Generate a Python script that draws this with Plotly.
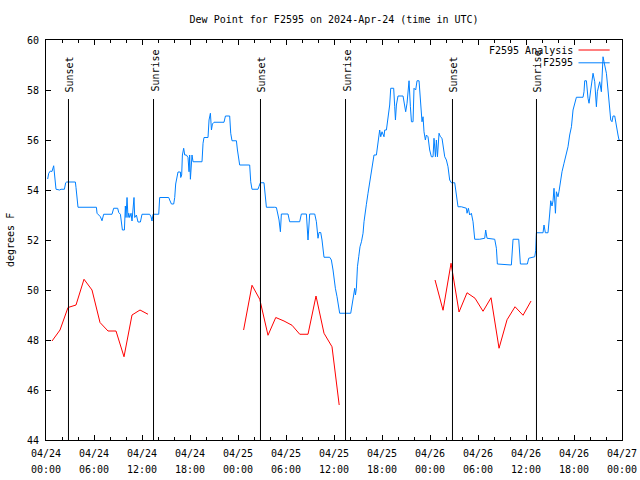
import plotly.graph_objects as go

# Hours since 2024-04-24 00:00 UTC
obs_hours = [0.21, 0.34, 0.55, 0.75, 0.96, 1.05, 1.17, 1.25, 1.71, 1.88, 2.30, 2.46, 2.59, 3.67, 3.75, 3.88, 4.0,
             5.75, 6.3, 6.38, 6.59, 6.8, 7.0, 7.21, 8.25, 8.46, 8.96, 9.09, 9.3, 9.43, 9.55, 9.8, 9.92, 10.0,
             10.13, 10.25, 10.34, 10.46, 10.63, 10.75, 10.88, 11.0, 11.09, 11.3, 11.5, 11.8, 12.0, 12.96, 13.13,
             13.25, 13.38, 14.09, 14.21, 15.34, 15.46, 15.68, 15.96, 16.09, 16.21, 16.38, 16.5, 16.8, 16.84,
             16.96, 17.05, 17.21, 17.34, 17.55, 17.75, 17.88, 17.96, 18.05, 18.17, 18.25, 18.38, 19.5, 19.63,
             19.75, 20.25, 20.38, 20.55, 20.68, 20.8, 21.0, 22.25, 22.43, 22.96, 23.09, 23.25, 23.8, 23.93,
             24.09, 24.21, 25.46, 25.59, 25.75, 26.5, 26.63, 26.8, 27.25, 27.46, 27.55, 28.59, 28.8, 29.0,
             29.13, 29.3, 29.42, 30.25, 30.46, 31.71, 31.92, 32.55, 32.63, 32.75, 32.96, 33.59, 33.8, 33.93,
             34.0, 34.13, 34.34, 34.5, 34.63, 34.75, 35.46, 35.67, 35.88, 36.0, 36.17, 36.38, 36.59, 36.71,
             38.09, 38.25, 38.46, 38.59, 38.68, 38.8, 38.93, 39.09, 39.25, 39.43, 39.63, 39.75, 39.93, 40.05,
             40.25, 40.46, 40.68, 40.88, 41.0, 41.3, 41.43, 41.59, 41.71, 41.84, 42.0, 42.25, 42.34, 42.55,
             42.75, 42.96, 43.09, 43.46, 43.59, 43.68, 43.8, 44.0, 44.63, 44.84, 44.96, 45.13, 45.25, 45.38,
             45.55, 45.68, 45.88, 46.0, 46.21, 46.38, 46.63, 46.8, 46.93, 47.0, 47.13, 47.25, 47.42, 47.55,
             47.75, 47.96, 48.17, 48.38, 48.5, 48.68, 48.8, 48.93, 49.13, 49.3, 49.5, 49.63, 49.84, 50.05,
             50.25, 50.46, 50.67, 51.09, 51.3, 51.5, 51.92, 52.55, 52.63, 52.8, 52.96, 53.17, 53.38, 53.59,
             54.21, 54.84, 54.96, 55.13, 56.09, 56.3, 56.42, 58.17, 58.38, 59.09, 59.3, 60.17, 60.34, 61.09,
             61.21, 61.3, 62.13, 62.25, 62.42, 62.75, 62.96, 63.09, 63.25, 63.38, 63.5, 63.68, 63.8, 64.0,
             64.13, 64.34, 64.5, 64.75, 64.96, 65.25, 65.46, 65.68, 65.88, 66.09, 66.3, 67.13, 67.25, 67.34,
             67.55, 67.75, 67.88, 68.09, 68.25, 68.38, 68.59, 68.8, 68.92, 69.21, 69.42, 69.5, 69.63, 69.75,
             70.05, 70.25, 70.46, 70.59, 70.75, 70.88, 71.09, 71.3, 71.5, 71.63, 71.72]
obs_values = [54.44, 54.67, 54.76, 54.74, 54.97, 54.7, 54.33, 54.03, 54.0, 54.03, 54.03, 54.29, 54.32, 54.32, 54.1,
              53.6, 53.31, 53.31, 53.31, 53.07, 53.0, 52.93, 52.77, 53.03, 53.03, 53.27, 53.27, 53.1, 53.03,
              52.6, 52.4, 52.4, 53.36, 52.9, 53.7, 52.9, 53.07, 52.9, 53.07, 52.76, 53.3, 53.7, 52.9, 53.0,
              52.72, 52.72, 53.03, 53.03, 52.93, 52.76, 53.03, 53.03, 53.7, 53.7, 53.6, 53.44, 53.44, 53.7,
              54.24, 54.53, 54.72, 54.72, 54.5, 54.6, 55.4, 55.67, 55.4, 55.4, 55.3, 54.73, 55.4, 54.43, 55.0,
              55.4, 55.13, 55.13, 55.87, 56.1, 56.1, 56.8, 57.07, 56.4, 56.64, 56.71, 56.71, 56.96, 56.96,
              56.27, 55.97, 55.97, 55.6, 55.33, 55.0, 55.0, 54.33, 54.03, 54.03, 54.15, 54.29, 54.29, 53.6,
              53.31, 53.31, 53.3, 53.0, 52.8, 52.33, 53.04, 53.04, 52.73, 52.73, 53.04, 53.04, 52.27, 52.0,
              53.04, 53.04, 52.73, 52.27, 52.07, 52.3, 52.3, 52.0, 51.47, 51.31, 51.31, 51.2, 50.8, 50.4,
              50.07, 49.73, 49.33, 49.07, 49.07, 49.47, 49.8, 50.07, 49.8, 50.07, 50.93, 51.33, 51.73, 51.93,
              52.27, 52.73, 53.07, 53.43, 53.87, 54.27, 54.67, 55.07, 55.4, 55.4, 55.67, 56.07, 56.4, 56.13,
              56.33, 56.13, 56.4, 56.4, 56.87, 57.4, 58.07, 58.07, 57.33, 56.8, 57.4, 57.76, 57.76, 57.4,
              57.13, 57.47, 58.0, 58.37, 57.33, 56.73, 56.73, 58.07, 58.0, 58.37, 58.37, 57.6, 57.13, 56.73,
              56.93, 56.33, 56.0, 56.2, 56.13, 55.6, 55.33, 55.33, 56.07, 55.33, 56.0, 55.33, 56.27, 56.13,
              56.07, 55.8, 55.33, 55.2, 54.93, 54.4, 54.29, 54.29, 53.87, 53.33, 53.33, 53.27, 53.07, 53.27,
              53.0, 53.07, 52.73, 52.03, 52.03, 52.07, 52.4, 52.07, 52.03, 51.67, 51.04, 51.0, 52.03, 52.03,
              51.04, 51.04, 51.27, 51.33, 51.57, 52.29, 52.29, 52.6, 52.29, 52.29, 53.04, 53.57, 53.36, 53.57,
              54.07, 53.07, 53.93, 53.73, 53.95, 54.47, 54.73, 55.07, 55.33, 55.73, 56.2, 56.53, 57.2, 57.53,
              57.71, 57.71, 57.93, 58.37, 58.37, 57.67, 57.47, 58.0, 58.53, 58.67, 58.33, 57.33, 57.93, 58.33,
              57.93, 58.67, 59.33, 59.13, 58.67, 58.0, 57.4, 56.8, 56.73, 56.96, 56.96, 56.47, 56.2, 56.0, 56.0]

ana_hours = [0.75, 1.75, 2.75, 3.75, 4.75, 5.75, 6.75, 7.75, 8.75, 9.75, 10.75, 11.75, 12.75, None,
             24.7, 25.75, 26.72, 27.75, 28.72, 29.75, 30.75, 31.72, 32.75, 33.75, 34.75, 35.75, 36.65, None,
             48.63, 49.63, 50.63, 51.63, 52.63, 53.63, 54.63, 55.63, 56.63, 57.63, 58.63, 59.63, 60.63]
ana_values = [47.96, 48.4, 49.3, 49.4, 50.43, 50.0, 48.7, 48.36, 48.36, 47.33, 49.0, 49.2, 49.03, None,
              48.4, 50.19, 49.63, 48.19, 48.9, 48.76, 48.59, 48.23, 48.23, 49.76, 48.27, 47.73, 45.4, None,
              50.4, 49.19, 51.07, 49.12, 49.89, 49.67, 49.15, 49.69, 47.67, 48.81, 49.33, 48.99, 49.56]

sun_hours = [2.81, 13.44, 26.81, 37.44, 50.81, 61.31]
sun_labels = ["Sunset", "Sunrise", "Sunset", "Sunrise", "Sunset", "Sunrise"]

tick_hours = [0, 6, 12, 18, 24, 30, 36, 42, 48, 54, 60, 66, 72]
tick_dates = ["04/24", "04/24", "04/24", "04/24", "04/25", "04/25", "04/25", "04/25",
              "04/26", "04/26", "04/26", "04/26", "04/27"]
tick_times = ["00:00", "06:00", "12:00", "18:00", "00:00", "06:00", "12:00", "18:00",
              "00:00", "06:00", "12:00", "18:00", "00:00"]

FONT = "DejaVu Sans Mono"
RED = "#ff0000"
BLUE = "#0080ff"

fig = go.Figure()
fig.add_trace(go.Scatter(x=ana_hours, y=ana_values, mode="lines", connectgaps=False,
                         line=dict(color=RED, width=1), name="F2595 Analysis", showlegend=False))
fig.add_trace(go.Scatter(x=obs_hours, y=obs_values, mode="lines",
                         line=dict(color=BLUE, width=1), name="F2595", showlegend=False))

for h, lab in zip(sun_hours, sun_labels):
    fig.add_shape(type="line", xref="x", yref="paper", x0=h, x1=h, y0=0, y1=0.8525,
                  line=dict(color="black", width=1))
    fig.add_annotation(x=h, xref="x", y=0.865, yref="paper", text=lab, textangle=-90,
                       showarrow=False, xanchor="center", yanchor="bottom", xshift=1,
                       font=dict(family=FONT, size=10, color="black"))

# second row of the time-axis labels
for h, t in zip(tick_hours, tick_times):
    fig.add_annotation(x=h, xref="x", y=-0.0725, yref="paper", text=t, showarrow=False,
                       xanchor="center", yanchor="middle", font=dict(family=FONT, size=10, color="black"))

# legend (gnuplot style: text then sample)
leg = [("F2595 Analysis", RED, 0.975), ("F2595", BLUE, 0.943)]
for name, col, yy in leg:
    fig.add_annotation(x=0.918, xref="paper", y=yy, yref="paper", text=name, showarrow=False,
                       xanchor="right", yanchor="middle", font=dict(family=FONT, size=10, color="black"))
    fig.add_shape(type="line", xref="paper", yref="paper", x0=0.9245, x1=0.9786, y0=yy, y1=yy,
                  line=dict(color=col, width=1))

fig.add_annotation(x=-0.0625, xref="paper", y=0.5, yref="paper", text="degrees F", textangle=-90,
                   showarrow=False, xanchor="center", yanchor="middle",
                   font=dict(family=FONT, size=10, color="black"))

fig.update_layout(
    width=640, height=480,
    margin=dict(l=46, r=18, t=40, b=40, autoexpand=False),
    paper_bgcolor="white", plot_bgcolor="white",
    title=dict(text="Dew Point for F2595 on 2024-Apr-24 (time in UTC)", x=0.522, xanchor="center",
               y=0.960, yanchor="middle", font=dict(family=FONT, size=10, color="black")),
    font=dict(family=FONT, size=10, color="black"),
    showlegend=False,
)
fig.update_xaxes(range=[0, 72], tickmode="array", tickvals=tick_hours, ticktext=tick_dates,
                 ticks="inside", ticklen=5, tickcolor="black", showgrid=False, zeroline=False,
                 showline=True, linecolor="black", linewidth=1, mirror="ticks", automargin=False,
                 ticklabelstandoff=4,
                 minor=dict(ticks="inside", ticklen=3, dtick=2, tick0=0, tickcolor="black", showgrid=False))
fig.update_yaxes(range=[44, 60], tickmode="array", tickvals=[44, 46, 48, 50, 52, 54, 56, 58, 60],
                 ticks="inside", ticklen=5, tickcolor="black", showgrid=False, zeroline=False,
                 showline=True, linecolor="black", linewidth=1, mirror="ticks", automargin=False,
                 ticklabelstandoff=4)

fig.write_html("out.html", config={"displayModeBar": False},
               post_script="document.body.style.margin='0px';")
